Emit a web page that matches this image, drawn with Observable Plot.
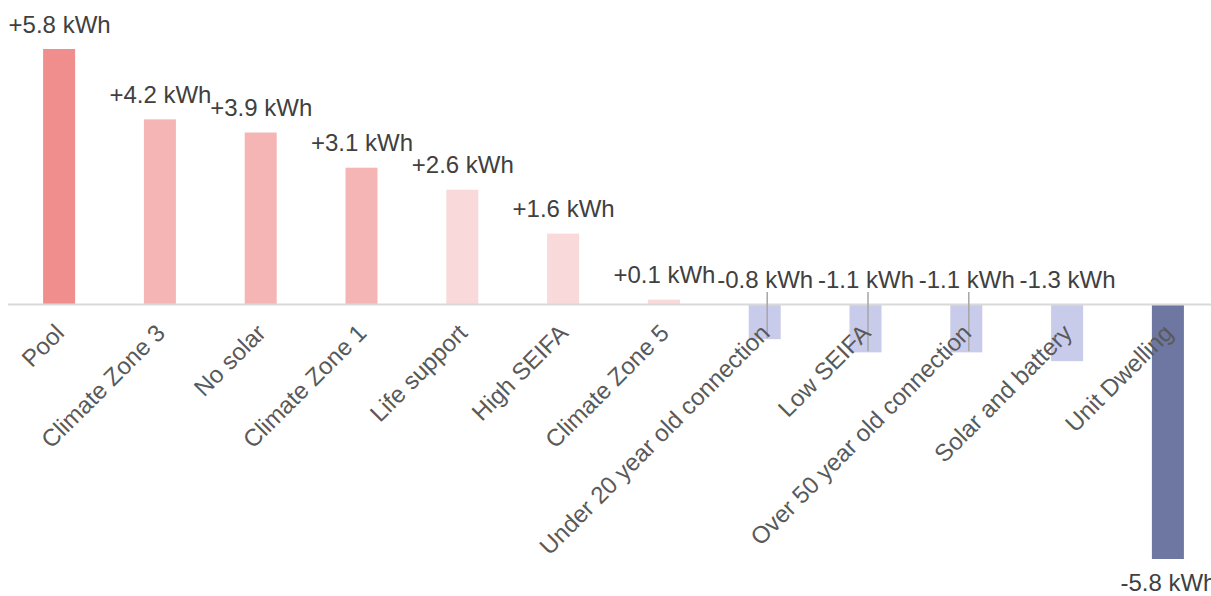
<!DOCTYPE html>
<html>
<head>
<meta charset="utf-8">
<script src="https://cdn.jsdelivr.net/npm/d3@7"></script>
<script src="https://cdn.jsdelivr.net/npm/@observablehq/plot@0.6"></script>
<style>
html, body { margin: 0; padding: 0; background: #fff; overflow: hidden; }
</style>
</head>
<body>
<div id="chart"></div>
<script>
const categories = [
  "Pool", "Climate Zone 3", "No solar", "Climate Zone 1", "Life support", "High SEIFA",
  "Climate Zone 5", "Under 20 year old connection", "Low SEIFA", "Over 50 year old connection",
  "Solar and battery", "Unit Dwelling"
];
const values = [5.8, 4.2, 3.9, 3.1, 2.6, 1.6, 0.1, -0.8, -1.1, -1.1, -1.3, -5.8];
const leaderLineCategories = ["Under 20 year old connection", "Low SEIFA", "Over 50 year old connection"];

const data = categories.map((category, i) => ({
  category,
  value: values[i],
  label: (values[i] > 0 ? "+" : "") + values[i].toFixed(1) + " kWh"
}));
const positive = data.filter(d => d.value >= 0);
const smallNegative = data.filter(d => d.value < 0 && d.value > -3);
const largeNegative = data.filter(d => d.value <= -3);
const leaders = data.filter(d => leaderLineCategories.includes(d.category));

const chart = Plot.plot({
  width: 1211,
  height: 596,
  marginTop: 0,
  marginBottom: 0,
  marginLeft: 8,
  marginRight: 0,
  style: { fontFamily: '"Liberation Sans", Arial, sans-serif', background: "#fff", overflow: "visible" },
  x: { domain: categories, range: [8.7, 1218.3], paddingInner: 0.6825, paddingOuter: 0.34125, round: false, axis: null },
  y: { domain: [-5.8, 5.8], range: [559, 49], axis: null },
  color: {
    type: "threshold",
    domain: [-3, 0, 3, 5],
    range: ["#6e77a2", "#c9cbea", "#fad9da", "#f5b5b5", "#f08e8e"]
  },
  marks: [
    Plot.barY(data, { x: "category", y: "value", fill: "value" }),
    Plot.ruleY([0], { stroke: "#d9d9d9", strokeWidth: 2 }),
    Plot.ruleX(leaders, {
      x: "category", y1: () => 0, y2: "value", dx: 2,
      insetTop: -12, insetBottom: 1, stroke: "#a6a6a6", strokeWidth: 1.5
    }),
    Plot.text(data, {
      x: "category", y: () => 0, text: "category", rotate: -45,
      textAnchor: "end", lineAnchor: "bottom", dx: 6, dy: 30,
      fontSize: 24, fill: "#595959"
    }),
    Plot.text(positive, {
      x: "category", y: "value", text: "label", lineAnchor: "bottom", dy: -17,
      fontSize: 24, fill: "#404040"
    }),
    Plot.text(smallNegative, {
      x: "category", y: () => 0, text: "label", lineAnchor: "bottom", dy: -17,
      fontSize: 24, fill: "#404040"
    }),
    Plot.text(largeNegative, {
      x: "category", y: "value", text: "label", lineAnchor: "top", dy: 14,
      fontSize: 24, fill: "#404040"
    })
  ]
});
document.getElementById("chart").appendChild(chart);
</script>
</body>
</html>
